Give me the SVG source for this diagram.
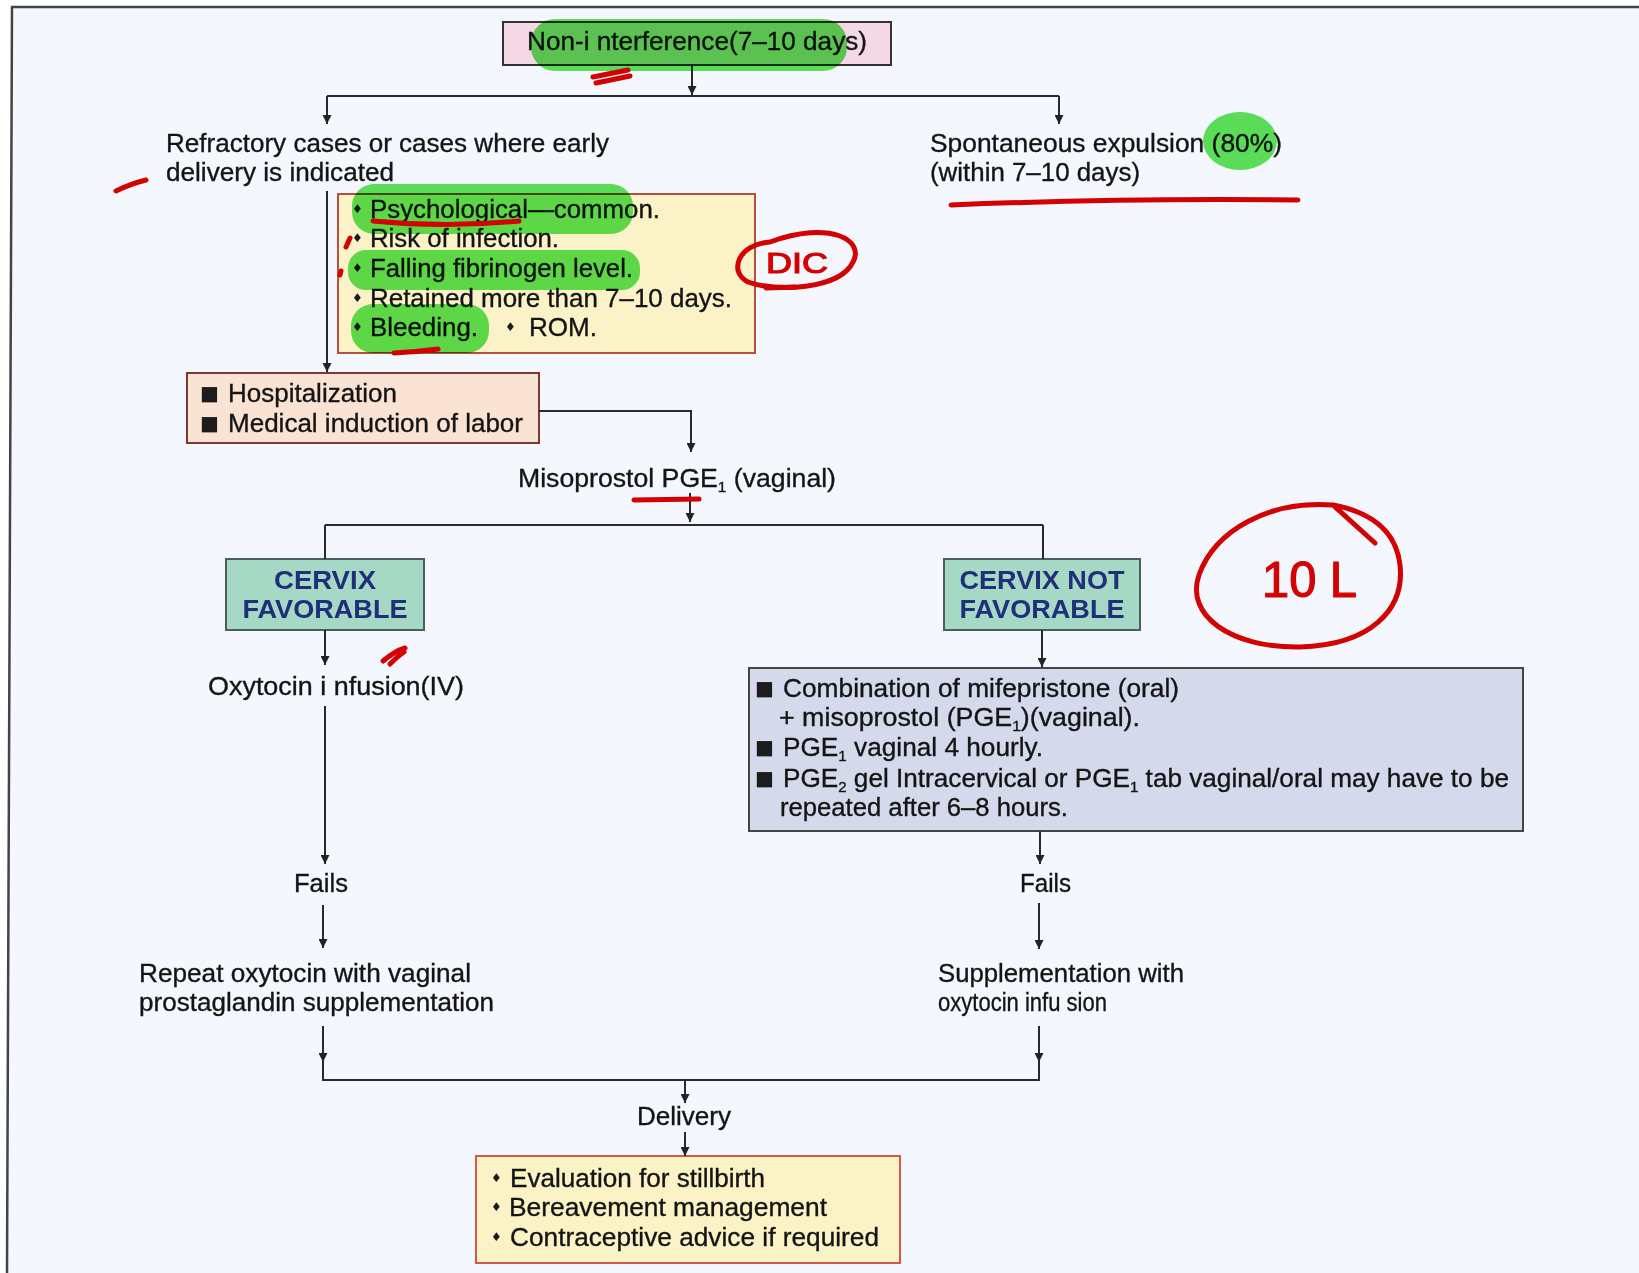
<svg xmlns="http://www.w3.org/2000/svg" width="1639" height="1273" viewBox="0 0 1639 1273">
<defs>
<marker id="ah" viewBox="0 0 10 10" refX="10" refY="5" markerWidth="9" markerHeight="9" markerUnits="userSpaceOnUse" orient="auto">
<path d="M0,0 L10,5 L0,10 z" fill="#222"/>
</marker>
<style>
.t{font-family:"Liberation Sans",Arial,sans-serif;font-size:26px;fill:#141414;stroke:#141414;stroke-width:0.35}
.b{font-family:"Liberation Sans",Arial,sans-serif;font-size:26px;font-weight:bold;fill:#1f2f78;text-anchor:middle}
.bul{font-family:"DejaVu Sans",sans-serif;font-size:12px;fill:#1c1c1c}
.sq{font-family:"DejaVu Sans",sans-serif;font-size:20px;fill:#1c1c1c}
.sub{font-size:15px}
.ln{stroke:#2a2a2a;stroke-width:2;fill:none}
.hl{fill:#5fe35a;mix-blend-mode:multiply}
.red{stroke:#d20000;stroke-width:5;fill:none;stroke-linecap:round;stroke-linejoin:round}
.rt{font-family:"Liberation Sans",Arial,sans-serif;fill:#d20000;stroke:#d20000;stroke-width:1.2}
</style>
</defs>
<rect x="0" y="0" width="1639" height="1273" fill="#ffffff"/>
<path d="M12,7 L1639,7 L1639,1273 L7,1273 z" fill="#f4f7fd"/>
<path d="M7,1273 L12,7 L1639,7" fill="none" stroke="#444" stroke-width="2.5"/>

<g id="node-top">
<rect x="503" y="22" width="388" height="43" fill="#f4d9e5" stroke="#333" stroke-width="2"/>
<text class="t" x="527" y="50" textLength="340" lengthAdjust="spacingAndGlyphs">Non-i  nterference(7–10 days)</text>
</g>

<g id="node-refractory">
<text class="t" x="166" y="152" textLength="443" lengthAdjust="spacingAndGlyphs">Refractory cases or cases where early</text>
<text class="t" x="166" y="181" textLength="228" lengthAdjust="spacingAndGlyphs">delivery is indicated</text>
</g>

<g id="node-spontaneous">
<text class="t" x="930" y="152" textLength="352" lengthAdjust="spacingAndGlyphs">Spontaneous expulsion (80%)</text>
<text class="t" x="930" y="181" textLength="210" lengthAdjust="spacingAndGlyphs">(within 7–10 days)</text>
</g>

<g id="node-reasons">
<rect x="338" y="194" width="417" height="159" fill="#fbf2c8" stroke="#b9503f" stroke-width="2"/>
<text class="bul" x="352" y="213">♦</text>
<text class="t" x="370" y="218" textLength="290" lengthAdjust="spacingAndGlyphs">Psychological—common.</text>
<text class="bul" x="352" y="242">♦</text>
<text class="t" x="370" y="247" textLength="189" lengthAdjust="spacingAndGlyphs">Risk of infection.</text>
<text class="bul" x="352" y="272">♦</text>
<text class="t" x="370" y="277" textLength="263" lengthAdjust="spacingAndGlyphs">Falling fibrinogen level.</text>
<text class="bul" x="352" y="302">♦</text>
<text class="t" x="370" y="307" textLength="362" lengthAdjust="spacingAndGlyphs">Retained more than 7–10 days.</text>
<text class="bul" x="352" y="331">♦</text>
<text class="t" x="370" y="336" textLength="108" lengthAdjust="spacingAndGlyphs">Bleeding.</text>
<text class="bul" x="505" y="331">♦</text>
<text class="t" x="529" y="336" textLength="68" lengthAdjust="spacingAndGlyphs">ROM.</text>
</g>

<g id="node-hospital">
<rect x="187" y="373" width="352" height="70" fill="#fbe3d4" stroke="#7a3a30" stroke-width="2"/>
<text class="sq" x="200" y="400">■</text>
<text class="t" x="228" y="402" textLength="169" lengthAdjust="spacingAndGlyphs">Hospitalization</text>
<text class="sq" x="200" y="430">■</text>
<text class="t" x="228" y="432" textLength="295" lengthAdjust="spacingAndGlyphs">Medical induction of labor</text>
</g>

<g id="node-misoprostol">
<text class="t" x="518" y="487" textLength="318" lengthAdjust="spacingAndGlyphs">Misoprostol PGE<tspan class="sub" dy="5">1</tspan><tspan dy="-5"> (vaginal)</tspan></text>
</g>

<g id="node-cervix-fav">
<rect x="226" y="559" width="198" height="71" fill="#a6d9c5" stroke="#4a5f58" stroke-width="2"/>
<text class="b" x="325" y="589" textLength="102" lengthAdjust="spacingAndGlyphs">CERVIX</text>
<text class="b" x="325" y="618" textLength="165" lengthAdjust="spacingAndGlyphs">FAVORABLE</text>
</g>

<g id="node-cervix-notfav">
<rect x="944" y="559" width="196" height="71" fill="#a6d9c5" stroke="#4a5f58" stroke-width="2"/>
<text class="b" x="1042" y="589" textLength="165" lengthAdjust="spacingAndGlyphs">CERVIX NOT</text>
<text class="b" x="1042" y="618" textLength="165" lengthAdjust="spacingAndGlyphs">FAVORABLE</text>
</g>

<g id="node-oxytocin">
<text class="t" x="208" y="695" textLength="256" lengthAdjust="spacingAndGlyphs">Oxytocin i nfusion(IV)</text>
</g>

<g id="node-regimen">
<rect x="749" y="668" width="774" height="163" fill="#d5d9ec" stroke="#444" stroke-width="2"/>
<text class="sq" x="755" y="695">■</text>
<text class="t" x="783" y="697" textLength="396" lengthAdjust="spacingAndGlyphs">Combination of mifepristone (oral)</text>
<text class="t" x="779" y="726" textLength="361" lengthAdjust="spacingAndGlyphs">+ misoprostol (PGE<tspan class="sub" dy="5">1</tspan><tspan dy="-5">)(vaginal).</tspan></text>
<text class="sq" x="755" y="754">■</text>
<text class="t" x="783" y="756" textLength="260" lengthAdjust="spacingAndGlyphs">PGE<tspan class="sub" dy="5">1</tspan><tspan dy="-5"> vaginal 4 hourly.</tspan></text>
<text class="sq" x="755" y="785">■</text>
<text class="t" x="783" y="787" textLength="726" lengthAdjust="spacingAndGlyphs">PGE<tspan class="sub" dy="5">2</tspan><tspan dy="-5"> gel Intracervical or PGE</tspan><tspan class="sub" dy="5">1</tspan><tspan dy="-5"> tab vaginal/oral may have to be</tspan></text>
<text class="t" x="780" y="816" textLength="288" lengthAdjust="spacingAndGlyphs">repeated after 6–8 hours.</text>
</g>

<g id="node-fails-left">
<text class="t" x="294" y="892" textLength="54" lengthAdjust="spacingAndGlyphs">Fails</text>
</g>
<g id="node-fails-right">
<text class="t" x="1020" y="892" textLength="51" lengthAdjust="spacingAndGlyphs">Fails</text>
</g>

<g id="node-repeat">
<text class="t" x="139" y="982" textLength="332" lengthAdjust="spacingAndGlyphs">Repeat oxytocin with vaginal</text>
<text class="t" x="139" y="1011" textLength="355" lengthAdjust="spacingAndGlyphs">prostaglandin supplementation</text>
</g>

<g id="node-supplement">
<text class="t" x="938" y="982" textLength="246" lengthAdjust="spacingAndGlyphs">Supplementation with</text>
<text class="t" x="938" y="1011" textLength="169" lengthAdjust="spacingAndGlyphs">oxytocin infu sion</text>
</g>

<g id="node-delivery">
<text class="t" x="637" y="1125" textLength="94" lengthAdjust="spacingAndGlyphs">Delivery</text>
</g>

<g id="node-aftercare">
<rect x="476" y="1156" width="424" height="107" fill="#fbf3c6" stroke="#cf5a48" stroke-width="2"/>
<text class="bul" x="491" y="1182">♦</text>
<text class="t" x="510" y="1187" textLength="255" lengthAdjust="spacingAndGlyphs">Evaluation for stillbirth</text>
<text class="bul" x="491" y="1211">♦</text>
<text class="t" x="509" y="1216" textLength="318" lengthAdjust="spacingAndGlyphs">Bereavement management</text>
<text class="bul" x="491" y="1241">♦</text>
<text class="t" x="510" y="1246" textLength="369" lengthAdjust="spacingAndGlyphs">Contraceptive advice if required</text>
</g>

<g id="connectors">
<line class="ln" x1="692" y1="65" x2="692" y2="95" marker-end="url(#ah)"/>
<line class="ln" x1="327" y1="96" x2="1059" y2="96"/>
<line class="ln" x1="327" y1="96" x2="327" y2="124" marker-end="url(#ah)"/>
<line class="ln" x1="1059" y1="96" x2="1059" y2="124" marker-end="url(#ah)"/>
<line class="ln" x1="327" y1="191" x2="327" y2="372" marker-end="url(#ah)"/>
<polyline class="ln" points="539,411 691,411 691,452" marker-end="url(#ah)"/>
<line class="ln" x1="690" y1="493" x2="690" y2="522" marker-end="url(#ah)"/>
<line class="ln" x1="325" y1="525" x2="1043" y2="525"/>
<line class="ln" x1="325" y1="525" x2="325" y2="559"/>
<line class="ln" x1="1043" y1="525" x2="1043" y2="559"/>
<line class="ln" x1="325" y1="630" x2="325" y2="665" marker-end="url(#ah)"/>
<line class="ln" x1="325" y1="706" x2="325" y2="864" marker-end="url(#ah)"/>
<line class="ln" x1="323" y1="905" x2="323" y2="948" marker-end="url(#ah)"/>
<line class="ln" x1="1042" y1="630" x2="1042" y2="667" marker-end="url(#ah)"/>
<line class="ln" x1="1040" y1="831" x2="1040" y2="864" marker-end="url(#ah)"/>
<line class="ln" x1="1039" y1="903" x2="1039" y2="949" marker-end="url(#ah)"/>
<line class="ln" x1="323" y1="1026" x2="323" y2="1062" marker-end="url(#ah)"/>
<line class="ln" x1="1039" y1="1026" x2="1039" y2="1062" marker-end="url(#ah)"/>
<polyline class="ln" points="323,1060 323,1080 1039,1080 1039,1060"/>
<line class="ln" x1="685" y1="1080" x2="685" y2="1103" marker-end="url(#ah)"/>
<line class="ln" x1="685" y1="1132" x2="685" y2="1156" marker-end="url(#ah)"/>
</g>

<g id="highlights">
<rect x="531" y="19" width="316" height="52" rx="24" class="hl"/>
<rect x="352" y="184" width="281" height="50" rx="22" class="hl"/>
<rect x="348" y="250" width="292" height="40" rx="18" class="hl"/>
<rect x="351" y="304" width="138" height="49" rx="22" class="hl"/>
<ellipse cx="1240" cy="141" rx="37" ry="29" class="hl"/>
</g>

<g id="annotations">
<path class="red" d="M593,77 L628,70 M596,83 L630,76"/>
<path class="red" d="M116,191 Q130,184 146,180"/>
<path class="red" d="M373,221 Q445,228 519,221"/>
<path class="red" d="M346,247 L350,238"/>
<path class="red" d="M340,275 L341,271"/>
<path class="red" d="M394,353 Q415,352 438,349"/>
<path class="red" d="M951,205 Q1120,198 1298,200"/>
<path class="red" d="M634,500 L699,499"/>
<path class="red" d="M383,661 Q395,651 405,648 M390,664 Q398,656 404,652"/>
<path class="red" d="M770,242 C830,220 865,240 853,262 C840,290 775,292 748,282 C728,272 738,244 770,242" stroke-width="4.5"/>
<path class="red" d="M766,288 L795,287" stroke-width="6"/>
<text class="rt" x="766" y="273" font-size="30" textLength="62" lengthAdjust="spacingAndGlyphs">DIC</text>
<path class="red" d="M1333,505 C1270,500 1215,530 1199,575 C1185,615 1230,648 1300,647 C1370,645 1405,610 1400,565 C1396,530 1370,512 1333,505 L1375,543" stroke-width="5"/>
<text class="rt" x="1262" y="597" font-size="50" textLength="95" lengthAdjust="spacingAndGlyphs">10 L</text>
</g>
</svg>
